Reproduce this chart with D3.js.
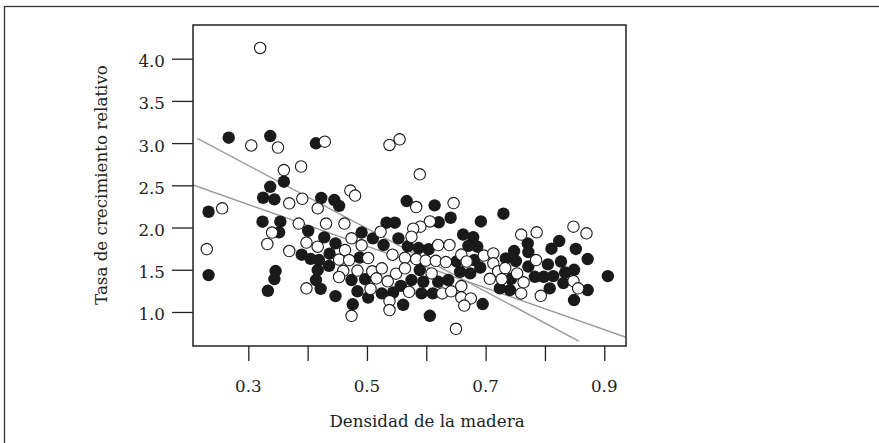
<!DOCTYPE html>
<html>
<head>
<meta charset="utf-8">
<script src="https://cdn.jsdelivr.net/npm/d3@7"></script>
<style>
  body { margin: 0; background: #fff; }
  svg text { font-family: "DejaVu Serif", "Liberation Serif", serif; fill: #222; }
</style>
</head>
<body>
<div id="chart"></div>
<script>
// wood density vs relative growth rate
var solidPts = [
  [0.267, 3.064], [0.337, 3.084], [0.414, 2.998], [0.360, 2.543], [0.337, 2.483],
  [0.325, 2.353], [0.344, 2.334], [0.233, 2.187], [0.324, 2.069], [0.354, 2.069],
  [0.352, 1.943], [0.390, 1.678], [0.233, 1.437], [0.346, 1.485], [0.344, 1.390],
  [0.333, 1.251], [0.423, 2.350], [0.445, 2.326], [0.453, 2.257], [0.567, 2.314],
  [0.533, 2.057], [0.547, 2.057], [0.401, 1.961], [0.428, 1.884], [0.491, 1.941],
  [0.510, 1.872], [0.553, 1.872], [0.447, 1.813], [0.528, 1.793], [0.405, 1.629],
  [0.419, 1.615], [0.437, 1.690], [0.488, 1.645], [0.436, 1.546], [0.417, 1.497],
  [0.474, 1.378], [0.497, 1.388], [0.414, 1.378], [0.422, 1.274], [0.484, 1.245],
  [0.525, 1.220], [0.544, 1.230], [0.557, 1.309], [0.502, 1.171], [0.447, 1.188],
  [0.476, 1.091], [0.561, 1.085], [0.614, 2.263], [0.621, 2.062], [0.641, 2.116],
  [0.692, 2.072], [0.730, 2.164], [0.662, 1.917], [0.679, 1.885], [0.569, 1.778],
  [0.587, 1.757], [0.604, 1.743], [0.671, 1.783], [0.686, 1.773], [0.748, 1.722],
  [0.734, 1.635], [0.651, 1.598], [0.681, 1.615], [0.691, 1.526], [0.589, 1.497],
  [0.657, 1.476], [0.674, 1.457], [0.575, 1.378], [0.595, 1.358], [0.620, 1.358],
  [0.637, 1.378], [0.743, 1.393], [0.724, 1.280], [0.741, 1.260], [0.592, 1.220],
  [0.611, 1.220], [0.695, 1.094], [0.606, 0.955], [0.824, 1.840], [0.811, 1.749],
  [0.852, 1.746], [0.771, 1.813], [0.772, 1.710], [0.872, 1.627], [0.751, 1.603],
  [0.805, 1.564], [0.827, 1.597], [0.772, 1.538], [0.849, 1.500], [0.834, 1.467],
  [0.783, 1.417], [0.798, 1.417], [0.814, 1.425], [0.906, 1.425], [0.831, 1.342],
  [0.808, 1.280], [0.872, 1.260], [0.849, 1.141]
];

var hollowPts = [
  [0.320, 4.127], [0.305, 2.972], [0.350, 2.948], [0.429, 3.017], [0.538, 2.978],
  [0.555, 3.045], [0.360, 2.681], [0.389, 2.723], [0.472, 2.438], [0.480, 2.379],
  [0.589, 2.630], [0.391, 2.341], [0.369, 2.287], [0.417, 2.228], [0.256, 2.228],
  [0.230, 1.745], [0.340, 1.941], [0.332, 1.805], [0.385, 2.047], [0.369, 1.722],
  [0.431, 2.047], [0.462, 2.047], [0.523, 1.950], [0.474, 1.872], [0.398, 1.822],
  [0.417, 1.773], [0.491, 1.789], [0.463, 1.733], [0.543, 1.678], [0.564, 1.641],
  [0.502, 1.639], [0.453, 1.621], [0.470, 1.615], [0.460, 1.487], [0.484, 1.490],
  [0.509, 1.482], [0.525, 1.517], [0.549, 1.454], [0.564, 1.517], [0.453, 1.414],
  [0.516, 1.398], [0.535, 1.363], [0.398, 1.280], [0.506, 1.274], [0.538, 1.129],
  [0.538, 1.023], [0.474, 0.954], [0.583, 2.243], [0.646, 2.290], [0.606, 2.072],
  [0.590, 2.010], [0.578, 1.986], [0.575, 1.891], [0.620, 1.793], [0.639, 1.793],
  [0.659, 1.680], [0.697, 1.668], [0.713, 1.694], [0.583, 1.627], [0.599, 1.609],
  [0.616, 1.606], [0.633, 1.591], [0.668, 1.598], [0.713, 1.576], [0.609, 1.457],
  [0.721, 1.482], [0.733, 1.520], [0.707, 1.393], [0.727, 1.390], [0.659, 1.307],
  [0.571, 1.239], [0.627, 1.220], [0.642, 1.244], [0.659, 1.173], [0.675, 1.161],
  [0.664, 1.076], [0.650, 0.801], [0.848, 2.010], [0.870, 1.931], [0.760, 1.917],
  [0.786, 1.943], [0.785, 1.615], [0.753, 1.457], [0.764, 1.351], [0.848, 1.366],
  [0.856, 1.280], [0.760, 1.220], [0.793, 1.191]
];

// the two fitted lines, as end points
var fitSteep = [[0.214, 3.057], [0.857, 0.656]];
var fitFlat = [[0.2068, 2.504], [0.9366, 0.700]];

var xTicks = [0.3, 0.4, 0.5, 0.6, 0.7, 0.8, 0.9];
var xLabelTicks = [0.3, 0.5, 0.7, 0.9];
var yTicks = [1.0, 1.5, 2.0, 2.5, 3.0, 3.5, 4.0];

var w = 879, h = 443;
var box = {left: 193, top: 25, right: 626, bottom: 346};
var fontSize = "16.7px";

var svg = d3.select("#chart").append("svg")
  .attr("width", w)
  .attr("height", h);

// outer frame
svg.append("rect")
  .attr("x", 4.5).attr("y", 6.5)
  .attr("width", w + 10).attr("height", h + 10)
  .attr("fill", "none")
  .attr("stroke", "#333")
  .attr("stroke-width", 1.3);

var x = d3.scaleLinear().domain([0.2068, 0.9366]).range([box.left, box.right]);
var y = d3.scaleLinear().domain([0.597, 4.399]).range([box.bottom, box.top]);

var xAxis = svg.append("g")
  .attr("transform", "translate(0," + box.bottom + ")")
  .call(d3.axisBottom(x).tickValues(xTicks).tickSize(15).tickFormat(""));
xAxis.select(".domain").remove();
xAxis.selectAll("line").attr("stroke", "#222").attr("stroke-width", 1.3);

var yAxis = svg.append("g")
  .attr("transform", "translate(" + box.left + ",0)")
  .call(d3.axisLeft(y).tickValues(yTicks).tickSize(21).tickFormat(""));
yAxis.select(".domain").remove();
yAxis.selectAll("line").attr("stroke", "#222").attr("stroke-width", 1.3);

svg.append("g").selectAll("text")
  .data(xLabelTicks)
  .enter().append("text")
  .attr("x", function(d) { return x(d); })
  .attr("y", 391.5)
  .attr("text-anchor", "middle")
  .style("font-size", fontSize)
  .text(function(d) { return d3.format(".1f")(d); });

svg.append("g").selectAll("text")
  .data(yTicks)
  .enter().append("text")
  .attr("x", 165)
  .attr("y", function(d) { return y(d) + 8.5; })
  .attr("text-anchor", "end")
  .style("font-size", fontSize)
  .text(function(d) { return d3.format(".1f")(d); });

svg.append("text")
  .attr("x", 427)
  .attr("y", 426.5)
  .attr("text-anchor", "middle")
  .style("font-size", fontSize)
  .text("Densidad de la madera");

svg.append("text")
  .attr("transform", "translate(106.5,185) rotate(-90)")
  .attr("text-anchor", "middle")
  .style("font-size", fontSize)
  .text("Tasa de crecimiento relativo");

// plot contents, clipped to the box
svg.append("clipPath").attr("id", "plotClip")
  .append("rect")
  .attr("x", box.left).attr("y", box.top)
  .attr("width", box.right - box.left).attr("height", box.bottom - box.top);

var plot = svg.append("g").attr("clip-path", "url(#plotClip)");

var line = d3.line()
  .x(function(d) { return x(d[0]); })
  .y(function(d) { return y(d[1]); });

plot.selectAll("path.fit")
  .data([fitSteep, fitFlat])
  .enter().append("path")
  .attr("class", "fit")
  .attr("d", line)
  .attr("fill", "none")
  .attr("stroke", "#9a9a9a")
  .attr("stroke-width", 1.4);

plot.selectAll("circle.solid")
  .data(solidPts)
  .enter().append("circle")
  .attr("class", "solid")
  .attr("cx", function(d) { return x(d[0]); })
  .attr("cy", function(d) { return y(d[1]); })
  .attr("r", 6.2)
  .attr("fill", "#1a1a1a");

plot.selectAll("circle.hollow")
  .data(hollowPts)
  .enter().append("circle")
  .attr("class", "hollow")
  .attr("cx", function(d) { return x(d[0]); })
  .attr("cy", function(d) { return y(d[1]); })
  .attr("r", 5.7)
  .attr("fill", "#fff")
  .attr("stroke", "#1a1a1a")
  .attr("stroke-width", 1.1);

// box on top
svg.append("rect")
  .attr("x", box.left).attr("y", box.top)
  .attr("width", box.right - box.left).attr("height", box.bottom - box.top)
  .attr("fill", "none")
  .attr("stroke", "#222")
  .attr("stroke-width", 1.5);
</script>
</body>
</html>
